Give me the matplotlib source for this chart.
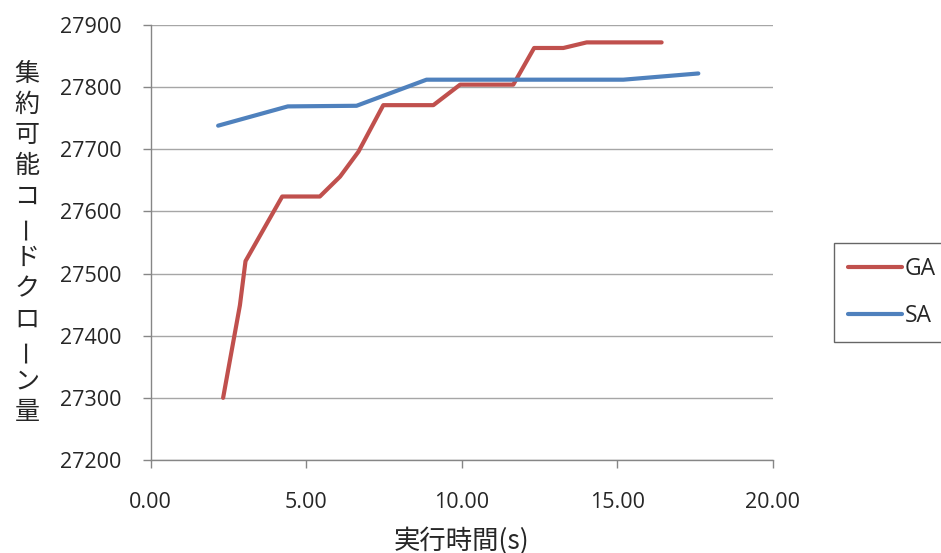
import matplotlib
matplotlib.use("Agg")
import matplotlib.pyplot as plt

plt.rcParams['font.family'] = ['Open Sans', 'Noto Sans CJK JP', 'DejaVu Sans']

# GA run: time (s) vs clone amount
ga_time = [2.33, 2.87, 3.05, 4.23, 5.44, 6.09, 6.68, 7.48, 9.09, 9.95,
           11.66, 12.33, 13.27, 14.02, 16.43]
ga_value = [27300, 27449, 27520, 27624, 27624, 27656, 27696, 27771, 27771,
            27804, 27804, 27863, 27863, 27872, 27872]

# SA run
sa_time = [2.17, 4.41, 6.62, 8.87, 15.2, 17.61]
sa_value = [27738, 27769, 27770, 27812, 27812, 27822]

x_ticks = [0, 5, 10, 15, 20]
y_ticks = [27200, 27300, 27400, 27500, 27600, 27700, 27800, 27900]
ylabel_chars = list("集約可能コードクローン量")

text_color = '#262626'
grid_color = '#A6A6A6'
cjk = ['Noto Sans CJK JP', 'DejaVu Sans']

fig = plt.figure(figsize=(9.41, 5.53), dpi=100)
ax = fig.add_axes([0.1601, 0.1682, 0.8211 - 0.1601, 0.9548 - 0.1682])

ax.plot(ga_time, ga_value, color='#C0504D', lw=3, solid_capstyle='round',
        solid_joinstyle='round', label='GA')
ax.plot(sa_time, sa_value, color='#4F81BD', lw=3, solid_capstyle='round',
        solid_joinstyle='round', label='SA')

ax.set_xlim(0, 20)
ax.set_ylim(27200, 27900)
ax.set_xticks(x_ticks)
ax.set_xticklabels([f"{v:.2f}" for v in x_ticks])
ax.set_yticks(y_ticks)

ax.yaxis.grid(True, color=grid_color, lw=1.0)
ax.set_axisbelow(True)
for side in ['top', 'right']:
    ax.spines[side].set_visible(False)
for side in ['left', 'bottom']:
    ax.spines[side].set_color('#868686')
    ax.spines[side].set_linewidth(1.0)

ax.tick_params(axis='both', colors='#868686', labelcolor=text_color,
               labelsize=15.5, length=6, width=1.0, direction='out')
ax.tick_params(axis='x', pad=17)
ax.tick_params(axis='y', pad=15)

ax.set_xlabel("実行時間(s)", fontsize=19, color=text_color, labelpad=10,
              family=cjk)

# vertical y label, one character per line
top_px, bottom_px = 74, 412
step = (bottom_px - top_px) / (len(ylabel_chars) - 1)
for i, ch in enumerate(ylabel_chars):
    y = 1 - (top_px + i * step) / 553
    rot = 90 if ch == 'ー' else 0
    fig.text(27 / 941, y, ch, ha='center', va='center', rotation=rot,
             rotation_mode='anchor', fontsize=18, color=text_color,
             family=cjk)

leg = ax.legend(loc='upper left', bbox_to_anchor=(834 / 941, 1 - 243 / 553),
                bbox_transform=fig.transFigure, frameon=True, fancybox=False,
                fontsize=16.5, handlelength=2.35, handletextpad=0.13,
                labelspacing=0.98, borderpad=0.62, borderaxespad=0)
leg.get_frame().set_edgecolor('#404040')
leg.get_frame().set_linewidth(1.0)
for t in leg.get_texts():
    t.set_color(text_color)

fig.savefig("out.png", dpi=100)
